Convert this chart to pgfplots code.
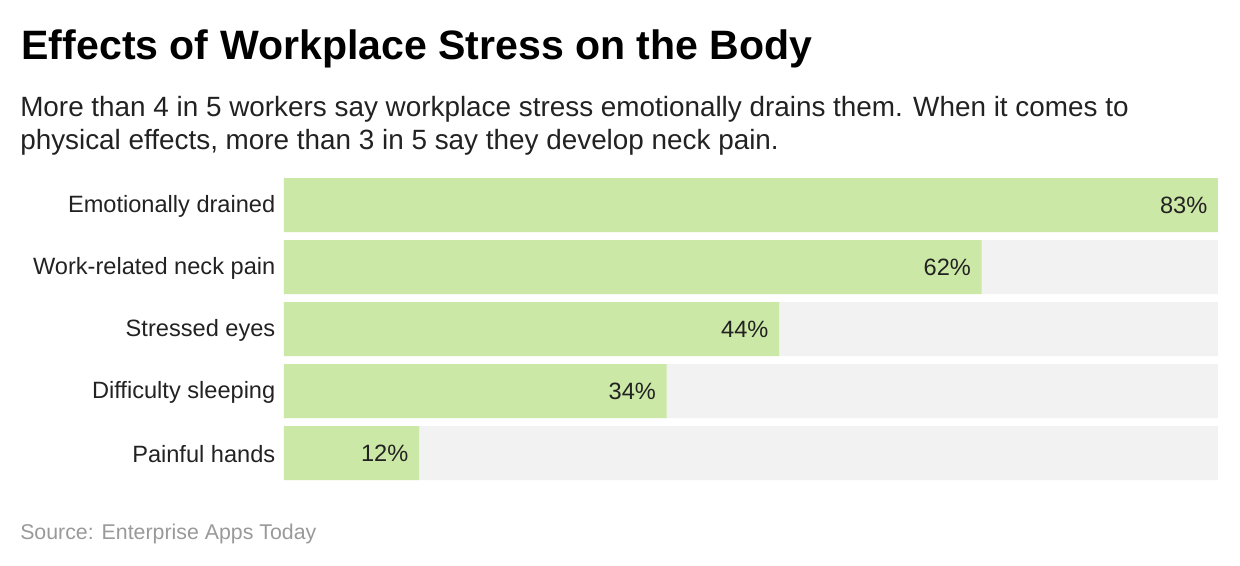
\documentclass[border=0pt]{standalone}
\usepackage{pgfplots}
\pgfplotsset{compat=1.18}
\usepackage{fontspec}
\setmainfont{Liberation Sans}
\definecolor{barg}{HTML}{CCE8A6}
\definecolor{bgg}{HTML}{F2F2F2}
\definecolor{txt}{HTML}{222222}
\definecolor{src}{HTML}{999999}
\begin{document}
\begin{tikzpicture}
\path[use as bounding box] (0,0) rectangle (930pt,-424.5pt);
\node[anchor=base west,inner sep=0pt,font=\fontsize{30.8}{36}\selectfont\bfseries] at (16pt,-45pt) {Effects of Workplace Stress on the Body};
\node[anchor=base west,inner sep=0pt,font=\fontsize{20.9}{24.75}\selectfont,color=txt] at (15pt,-87.75pt) {More than 4 in 5 workers say workplace stress emotionally drains them. When it comes to};
\node[anchor=base west,inner sep=0pt,font=\fontsize{20.9}{24.75}\selectfont,color=txt] at (15pt,-112.5pt) {physical effects, more than 3 in 5 say they develop neck pain.};
\node[anchor=base west,inner sep=0pt,font=\fontsize{16}{19}\selectfont,color=src] at (15pt,-405pt) {Source: Enterprise Apps Today};
\begin{axis}[
  at={(213pt,-363pt)}, anchor=south west,
  scale only axis, width=700.5pt, height=232.5pt,
  xbar, bar shift=0pt, bar width=0.871,
  xmin=0, xmax=83, ymin=-0.5, ymax=4.5, y dir=reverse,
  axis line style={draw=none}, major tick length=0pt,
  xtick=\empty, ytick={0,1,2,3,4},
  yticklabels={Emotionally drained,Work-related neck pain,Stressed eyes,Difficulty sleeping,Painful hands},
  yticklabel style={font=\fontsize{17.7}{21}\selectfont, color=txt, xshift=-3pt, yshift=-1pt},
  clip=false,
]
\addplot[draw=none, fill=bgg] coordinates {(83,0) (83,1) (83,2) (83,3) (83,4)};
\addplot[draw=none, fill=barg,
  nodes near coords={\pgfmathprintnumber[assume math mode=true]{\pgfplotspointmeta}\%},
  nodes near coords style={anchor=east, xshift=-4.5pt, font=\fontsize{17.7}{21}\selectfont, color=txt}]
  coordinates {(83,0) (62,1) (44,2) (34,3) (12,4)};
\end{axis}
\end{tikzpicture}
\end{document}
